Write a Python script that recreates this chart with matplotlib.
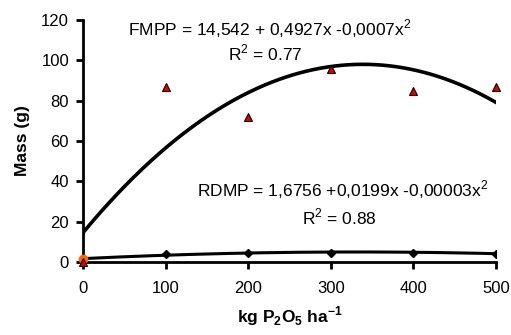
import numpy as np
import matplotlib.pyplot as plt

plt.rcParams['font.family'] = ['Liberation Sans', 'DejaVu Sans']
plt.rcParams['mathtext.fontset'] = 'custom'
plt.rcParams['mathtext.rm'] = 'Liberation Sans'
plt.rcParams['mathtext.bf'] = 'Liberation Sans:bold'

# P2O5 doses (kg/ha) and measured masses (g)
doses = [0, 100, 200, 300, 400, 500]
fmpp = [0.0, 87.0, 71.7, 95.5, 84.9, 86.6]
rdmp = [1.5, 4.0, 4.3, 4.4, 4.3, 3.8]

# quadratic trend coefficients (a, b, c) for a + b*x + c*x^2
fmpp_coef = [14.542, 0.4927, -0.000727]
rdmp_coef = [1.6756, 0.0199, -0.00003]

fig = plt.figure(figsize=(5.11, 3.35), dpi=100)
ax = fig.add_axes([0.1624, 0.2179, 0.8082, 0.7224])

xs = np.linspace(0, 500, 300)
ax.plot(xs, fmpp_coef[0] + fmpp_coef[1]*xs + fmpp_coef[2]*xs**2,
        color='black', lw=2.6, zorder=3)
ax.plot(xs, rdmp_coef[0] + rdmp_coef[1]*xs + rdmp_coef[2]*xs**2,
        color='black', lw=2.2, zorder=3)

ax.plot(doses[1:], rdmp[1:], 'D', color='black', ms=4.5, zorder=4)
ax.plot(doses[0], rdmp[0], 'o', color='#ff6600', ms=6, zorder=4, clip_on=False)
ax.plot(doses, fmpp, '^', color='#e00000', mec='black', mew=0.8, ms=6,
        zorder=5, clip_on=False)

ax.set_xlim(0, 500)
ax.set_ylim(0, 120)
ax.set_xticks(range(0, 501, 100))
ax.set_yticks(range(0, 121, 20))
for side in ['top', 'right']:
    ax.spines[side].set_visible(False)
for side in ['left', 'bottom']:
    ax.spines[side].set_linewidth(2)
ax.tick_params(direction='out', length=5, width=2, labelsize=12)
ax.tick_params(axis='x', pad=9)
ax.tick_params(axis='y', pad=5)

ax.set_xlabel('kg P$_\\mathbf{2}$O$_\\mathbf{5}$ ha$^\\mathbf{-1}$', fontsize=12.5,
              fontweight='bold', labelpad=6)
ax.set_ylabel('Mass (g)', fontsize=12.5, fontweight='bold', labelpad=8)

ax.text(55, 115.5, 'FMPP = 14,542 + 0,4927x -0,0007x$^2$', fontsize=12.5,
        va='center')
ax.text(221, 103.6, 'R$^2$ = 0.77', fontsize=12.5, va='center', ha='center')
ax.text(138, 35.7, 'RDMP = 1,6756 +0,0199x -0,00003x$^2$', fontsize=12.5,
        va='center')
ax.text(311, 22.3, 'R$^2$ = 0.88', fontsize=12.5, va='center', ha='center')

plt.savefig('out.png', dpi=100)
